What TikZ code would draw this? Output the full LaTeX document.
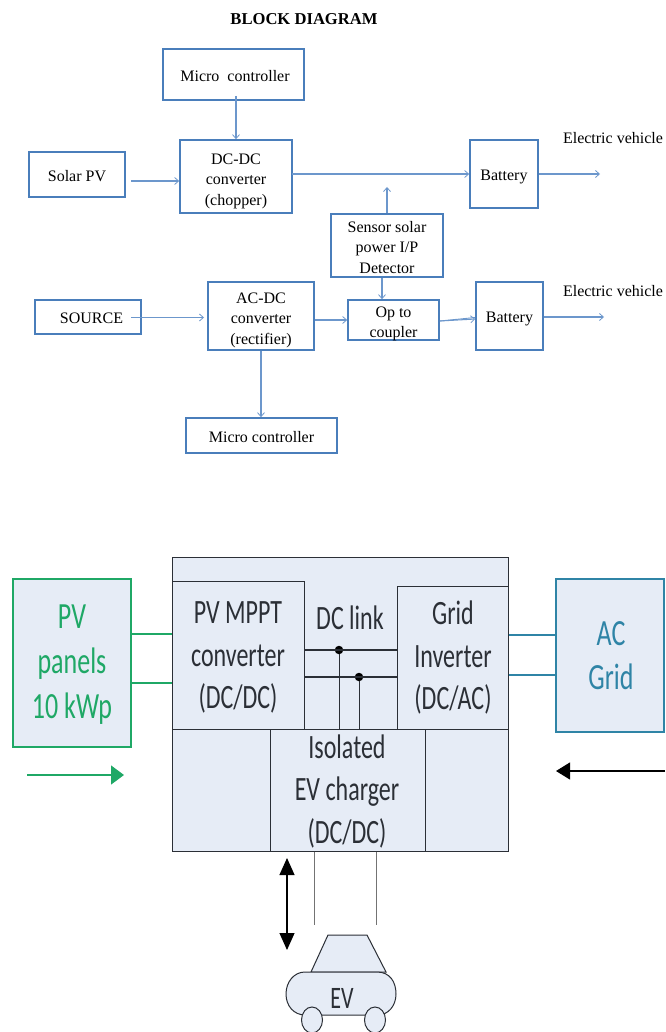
\documentclass[tikz,border=0pt]{standalone}
\usepackage{fontspec}
\setmainfont{Liberation Serif}
\newfontfamily\calib{Carlito}
\usetikzlibrary{arrows.meta}
\definecolor{bluebox}{HTML}{4A7EBB}
\definecolor{bluearr}{HTML}{6C97CC}
\definecolor{panel}{HTML}{E6ECF6}
\definecolor{pvgreen}{HTML}{1FA866}
\definecolor{acblue}{HTML}{2F84A6}
\definecolor{darkline}{HTML}{2B2F36}
% \bx[style]{name}{x1}{y1}{x2}{y2}: an empty box between two corners
\newcommand{\bx}[6][panelbox]{%
  \pgfmathsetmacro{\bw}{#5-#3}\pgfmathsetmacro{\bh}{#6-#4}%
  \pgfmathsetmacro{\bcx}{(#3+#5)/2}\pgfmathsetmacro{\bcy}{(#4+#6)/2}%
  \node[#1,minimum width=\bw pt,minimum height=\bh pt] (#2) at (\bcx,\bcy) {};}
% \tb{name}{x1}{y1}{x2}{y2}{dx}{dy}{text}: a top-diagram box whose text sits off centre by dx,dy
\newcommand{\tb}[8]{%
  \bx[topbox]{#1}{#2}{#3}{#4}{#5}%
  \node[toplabel] (#1T) at ([xshift=#6pt,yshift=-#7pt]#1.center) {#8};}
\newcommand{\tl}[1]{\scalebox{1}[1.42]{#1}}
\tikzset{
  topbox/.style={draw=bluebox,line width=1.6pt,inner sep=0pt},
  toplabel/.style={inner sep=0pt,align=center,text=black,font=\fontsize{16}{20.5}\selectfont},
  arr/.style={draw=bluearr,line width=1.05pt,-{Straight Barb[length=4pt,width=7pt,line width=0.8pt]}},
  panelbox/.style={draw=darkline,line width=1pt,fill=panel,inner sep=0pt},
  pvbox/.style={draw=pvgreen,line width=1.3pt,fill=panel,inner sep=0pt},
  acbox/.style={draw=acblue,line width=1.3pt,fill=panel,inner sep=0pt},
  blabel/.style={inner sep=0pt,align=center,text=darkline,font=\calib\fontsize{24}{42.5}\selectfont},
  wire/.style={draw=darkline,line width=0.9pt},
  dot/.style={circle,fill=black,inner sep=0pt,minimum size=8.5pt},
}
\begin{document}
\begin{tikzpicture}[x=1pt,y=-1pt]
\useasboundingbox (0,0) rectangle (665,1032);
\fill[white] (0,0) rectangle (665,1032);
% ---- top diagram
\node[toplabel,font=\bfseries\fontsize{16.6}{18}\selectfont] (title) at (304,19) {BLOCK DIAGRAM};
\tb{micro}{163}{49}{304}{100}{1.5}{2}{Micro\hspace{4pt} controller}
\tb{dc}{180}{140}{292}{213}{0}{4.5}{DC-DC\\converter\\(chopper)}
\tb{solar}{29}{152}{125}{197}{0}{2}{Solar PV}
\tb{batA}{470}{140}{538}{208}{0}{3}{Battery}
\tb{sensor}{331}{214}{443}{277}{0}{2}{Sensor solar\\power I/P\\Detector}
\tb{source}{35}{300}{141}{334}{3.5}{1}{SOURCE}
\tb{ac}{208}{282}{314}{350}{0}{4}{AC-DC\\converter\\(rectifier)}
\tb{opto}{348}{300}{439}{340}{0}{4}{Op to\\coupler}
\tb{batB}{476}{282}{543}{350}{0}{3}{Battery}
\tb{microB}{186}{418}{337}{453}{0}{2}{Micro controller}
\node[toplabel] (evA) at (613,138) {Electric vehicle};
\node[toplabel] (evB) at (613,291) {Electric vehicle};
\coordinate (microStart) at (236,96);
\coordinate (solarStart) at (131,181);
\coordinate (dcOut) at (292,174);
\coordinate (vehA) at (600,174);
\coordinate (sensorTip) at (387,187);
\coordinate (srcStart) at (131,317.5);
\coordinate (srcEnd) at (204,317.5);
\coordinate (vehB) at (604,317);
\draw[arr] (microStart) -- (dc.north -| microStart);
\draw[arr,line width=1.4pt] (solarStart) -- (dc.west |- solarStart);
\draw[arr] (dcOut) -- (batA.west |- dcOut);
\draw[arr] (batA.east |- dcOut) -- (vehA);
\draw[arr] (sensor.north) -- (sensorTip);
\draw[arr] (srcStart) -- (srcEnd);
\draw[arr] (ac.east |- opto.west) -- (opto.west);
\draw[arr] (sensor.south -| 382,0) -- (opto.north -| 382,0);
\draw[arr] ([yshift=-1pt]opto.east) -- ([yshift=-3pt]batB.west);
\draw[bluearr,line width=0.9pt] ([yshift=-1pt]opto.east) -- ([yshift=-1.5pt]batB.west);
\draw[arr] (batB.east |- vehB) -- (vehB);
\draw[arr] (ac.south) -- (microB.north -| ac.south);
% ---- bottom diagram
\bx{outer}{172}{557}{508}{851}
\bx{mppt}{172}{581}{304}{729}
\bx{grid}{397}{586}{508}{729}
\bx{lower}{172}{729}{508}{851}
\bx{iso}{270}{729}{425}{851}
\bx[pvbox]{pv}{13}{579}{131}{747}
\bx[acbox]{acg}{556}{579}{664}{732}
\node[blabel] (mpptT) at (238,657.5) {\tl{PV MPPT}\\\tl{converter}\\\tl{(DC/DC)}};
\node[blabel] (gridT) at (453,658) {\tl{Grid}\\\tl{Inverter}\\\tl{(DC/AC)}};
\node[blabel] (dclT) at (350,618) {\tl{DC link}};
\node[blabel] (isoT) at (347,791.5) {\tl{Isolated}\\\tl{EV charger}\\\tl{(DC/DC)}};
\node[blabel,text=pvgreen,font=\calib\fontsize{26}{45}\selectfont] (pvT) at (72,665) {\tl{PV}\\\tl{panels}\\\tl{10 kWp}};
\node[blabel,text=acblue,font=\calib\fontsize{26}{44}\selectfont] (acT) at (611,656) {\tl{AC}\\\tl{Grid}};
% wires
\coordinate (pvA) at (131,634); \coordinate (pvB) at (131,683);
\coordinate (acA) at (556,635); \coordinate (acB) at (556,675);
\draw[pvgreen,line width=1.3pt] (pvA) -- (mppt.west |- pvA) (pvB) -- (mppt.west |- pvB);
\draw[acblue,line width=1.3pt] (grid.east |- acA) -- (acA) (grid.east |- acB) -- (acB);
\node[dot] (d1) at (339,650) {};
\node[dot] (d2) at (359,677) {};
\draw[wire,line width=1.2pt] (mppt.east |- d1) -- (grid.west |- d1) (mppt.east |- d2) -- (grid.west |- d2);
\draw[wire] (d1) -- (d1 |- lower.north);
\draw[wire] (d2) -- (d2 |- lower.north);
\coordinate (plugA) at (314,925); \coordinate (plugB) at (376,925);
\draw[gray!90!black,line width=1pt] (plugA |- lower.south) -- (plugA) (plugB |- lower.south) -- (plugB);
\coordinate (gStart) at (27,775);
\coordinate (gEnd) at (124,775);
\coordinate (kStart) at (665,771);
\coordinate (kEnd) at (556,771);
\coordinate (ud1) at (287,858);
\coordinate (ud2) at (287,950);
\draw[pvgreen,line width=1.3pt,-{Triangle[length=13pt,width=19pt]}] (gStart) -- (gEnd);
\draw[black,line width=1.2pt,-{Triangle[length=14pt,width=17pt]}] (kStart) -- (kEnd);
\draw[black,line width=1.1pt,{Triangle[length=17pt,width=15pt]}-{Triangle[length=17pt,width=15pt]}] (ud1) -- (ud2);
% car
\draw[panelbox] (311,972) -- (328,935) -- (367,935) -- (386,972) -- cycle;
\draw[panelbox] (305,972) -- (377,972) .. controls (390,972) and (396,982) .. (396,994) .. controls (396,1006) and (388,1015) .. (378,1015) -- (305,1015) .. controls (294,1015) and (286,1006) .. (286,994) .. controls (286,982) and (294,972) .. (305,972) -- cycle;
\draw[panelbox] (312,1020) ellipse (10.5 and 13);
\draw[panelbox] (375,1020) ellipse (10.5 and 13);
\node[blabel,font=\calib\fontsize{22}{24}\selectfont] (evT) at (342,998) {\tl{EV}};
\end{tikzpicture}
\end{document}
